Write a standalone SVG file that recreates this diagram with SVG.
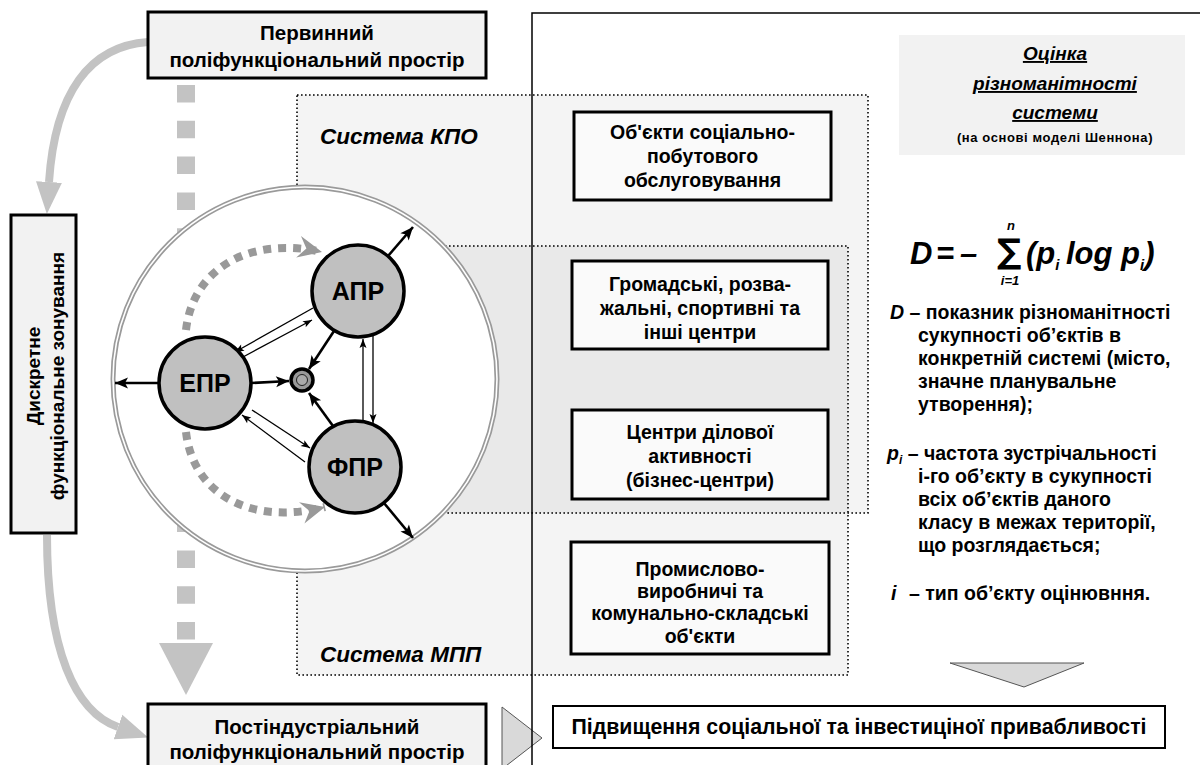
<svg xmlns="http://www.w3.org/2000/svg" width="1200" height="765" viewBox="0 0 1200 765">
<style>
.t{font-family:"Liberation Sans",Arial,sans-serif;font-weight:bold;fill:#000}
.i{font-style:italic}
.box{fill:#f2f2f2;stroke:#000;stroke-width:3}
.rbox{fill:#fafafa;stroke:#000;stroke-width:3}
.reg{fill:#000;fill-opacity:0.045;stroke:#000;stroke-width:1.6;stroke-dasharray:1.6 2.4}
.node{fill:#c0c0c0;stroke:#000;stroke-width:3.5}
.thick{stroke:#000;stroke-width:2.6;fill:none;marker-end:url(#ah)}
.thin{stroke:#000;stroke-width:1.3;fill:none;marker-end:url(#ahs)}
.garc{stroke:#999;stroke-width:8;fill:none;stroke-dasharray:8 7;marker-end:url(#ga)}
.lcurve{stroke:#c3c3c3;stroke-width:8;fill:none;marker-end:url(#la)}
.tri{fill:#d9d9d9;stroke:#555;stroke-width:1}
</style>
<defs>
<marker id="ah" viewBox="-14 -7 16 14" markerWidth="16" markerHeight="14" refX="0" refY="0" orient="auto" markerUnits="userSpaceOnUse"><path d="M-13,-5.5 L0,0 L-13,5.5 L-10,0 z" fill="#000"/></marker>
<marker id="ahs" viewBox="-11 -5 12 10" markerWidth="12" markerHeight="10" refX="0" refY="0" orient="auto" markerUnits="userSpaceOnUse"><path d="M-9,-3.5 L0,0 L-9,3.5 L-7,0 z" fill="#000"/></marker>
<marker id="ga" viewBox="-26 -13 28 26" markerWidth="28" markerHeight="26" refX="0" refY="0" orient="auto" markerUnits="userSpaceOnUse"><path d="M-24,-11 L0,0 L-24,11 L-16,0 z" fill="#999"/></marker>
<marker id="la" viewBox="0 -16 34 32" markerWidth="34" markerHeight="32" refX="0" refY="0" orient="auto" markerUnits="userSpaceOnUse"><path d="M0,-13 L32,0 L0,13 z" fill="#c3c3c3"/></marker>
</defs>
<rect width="1200" height="765" fill="#fff"/>

<g id="region-kpo"><rect class="reg" x="297" y="95" width="571" height="418"/></g>
<g id="region-mpp"><rect class="reg" x="297" y="246" width="551" height="429"/></g>

<g id="flow-dashes">
<line x1="186" y1="85" x2="186" y2="642" stroke="#c3c3c3" stroke-width="18" stroke-dasharray="17.5 18.3"/>
<polygon points="159,643 213,643 186,695" fill="#c3c3c3"/>
</g>

<g id="big-circle">
<circle cx="305" cy="379" r="192" fill="#fff" stroke="#9a9a9a" stroke-width="5"/>
<circle cx="305" cy="379" r="192" fill="none" stroke="#fff" stroke-width="1.6"/>
</g>

<g id="connectors">
<path class="garc" d="M186,330 C193,268 250,236 322,252"/>
<path class="garc" d="M186,432 C193,494 250,526 325,507"/>
<line class="thick" x1="159" y1="383" x2="115" y2="383"/>
<line class="thick" x1="251" y1="383" x2="289" y2="381"/>
<line class="thick" x1="334" y1="331" x2="309" y2="369"/>
<line class="thick" x1="333" y1="426" x2="309" y2="393"/>
<line class="thick" x1="388" y1="256" x2="413" y2="227"/>
<line class="thick" x1="384" y1="503" x2="413" y2="538"/>
<line class="thin" x1="313" y1="308" x2="235" y2="352"/>
<line class="thin" x1="243" y1="357" x2="312" y2="320"/>
<line class="thin" x1="252" y1="410" x2="310" y2="448"/>
<line class="thin" x1="305" y1="462" x2="242" y2="415"/>
<line class="thin" x1="363" y1="421" x2="363" y2="339"/>
<line class="thin" x1="373" y1="336" x2="373" y2="423"/>
<path class="lcurve" d="M148,42 C90,46 55,92 49,182"/>
<path class="lcurve" d="M47,535 C47,650 75,712 118,727"/>
</g>

<g id="node-center">
<circle cx="302" cy="380" r="11" fill="#999" stroke="#000" stroke-width="3.5"/>
<circle cx="302" cy="380" r="5.5" fill="#aaa" stroke="#222" stroke-width="1"/>
</g>
<g id="node-apr"><circle class="node" cx="358" cy="291" r="46"/><text class="t" x="358" y="300" font-size="25" text-anchor="middle">АПР</text></g>
<g id="node-epr"><circle class="node" cx="205" cy="383" r="46"/><text class="t" x="205" y="392" font-size="25" text-anchor="middle">ЕПР</text></g>
<g id="node-fpr"><circle class="node" cx="355" cy="467" r="46"/><text class="t" x="355" y="476" font-size="25" text-anchor="middle">ФПР</text></g>

<g id="label-kpo"><text class="t i" x="320" y="144" font-size="22.5">Система КПО</text></g>
<g id="label-mpp"><text class="t i" x="320" y="662" font-size="22.5">Система МПП</text></g>

<g id="box-social"><rect class="rbox" x="574" y="112" width="257" height="88"/>
<text class="t" font-size="19.5" text-anchor="middle"><tspan x="702.5" y="139">Об'єкти соціально-</tspan><tspan x="702.5" y="163">побутового</tspan><tspan x="702.5" y="187">обслуговування</tspan></text></g>
<g id="box-public"><rect class="rbox" x="572" y="261" width="256" height="88"/>
<text class="t" font-size="19.5" text-anchor="middle"><tspan x="700" y="291">Громадські, розва-</tspan><tspan x="700" y="315">жальні, спортивні та</tspan><tspan x="700" y="339">інші центри</tspan></text></g>
<g id="box-business"><rect class="rbox" x="572" y="410" width="256" height="89"/>
<text class="t" font-size="19.5" text-anchor="middle"><tspan x="700" y="439">Центри ділової</tspan><tspan x="700" y="463">активності</tspan><tspan x="700" y="487">(бізнес-центри)</tspan></text></g>
<g id="box-industrial"><rect class="rbox" x="571" y="542" width="258" height="112"/>
<text class="t" font-size="19.5" text-anchor="middle"><tspan x="700" y="576">Промислово-</tspan><tspan x="700" y="598">виробничі та</tspan><tspan x="700" y="620">комунально-складські</tspan><tspan x="700" y="643">об'єкти</tspan></text></g>

<g id="box-primary"><rect class="box" x="148" y="12" width="338" height="66"/>
<text class="t" font-size="20.5" text-anchor="middle"><tspan x="317" y="40">Первинний</tspan><tspan x="317" y="67">поліфункціональний простір</tspan></text></g>
<g id="box-post"><rect class="box" x="148" y="704" width="338" height="75"/>
<text class="t" font-size="20.5" text-anchor="middle"><tspan x="317" y="734">Постіндустріальний</tspan><tspan x="317" y="759">поліфункціональний простір</tspan></text></g>
<g id="box-zoning"><rect class="box" x="11" y="215" width="65" height="318"/>
<text class="t" font-size="19" text-anchor="middle" transform="translate(40,376) rotate(-90)">Дискретне</text>
<text class="t" font-size="19" text-anchor="middle" transform="translate(64,376) rotate(-90)">функціональне зонування</text></g>

<g id="arrow-right"><polygon class="tri" points="502,707 542,738 502,769"/></g>
<g id="frame"><path d="M532,765 V13 H1200" fill="none" stroke="#000" stroke-width="1.5"/></g>

<g id="panel-title"><rect x="899" y="35" width="286" height="120" fill="#f2f2f2"/>
<text class="t i" font-size="19" text-anchor="middle" text-decoration="underline"><tspan x="1055" y="60">Оцінка</tspan><tspan x="1055" y="90">різноманітності</tspan><tspan x="1055" y="119">системи</tspan></text>
<text class="t" font-size="13" letter-spacing="0.6" text-anchor="middle" x="1055" y="142">(на основі моделі Шеннона)</text></g>

<g id="formula">
<text class="t i" font-size="31" y="264"><tspan x="910">D</tspan><tspan x="936">=</tspan><tspan x="960">–</tspan></text>
<text x="1009" y="263" font-family="DejaVu Sans,sans-serif" font-weight="bold" font-size="34" text-anchor="middle">∑</text>
<text class="t i" font-size="13" x="1011" y="230" text-anchor="middle">n</text>
<text class="t i" font-size="13" x="1010" y="285" text-anchor="middle">i=1</text>
<text class="t i" font-size="31" y="264"><tspan x="1026">(p</tspan><tspan font-size="15" dy="6">i</tspan><tspan x="1066" dy="-6">log p</tspan><tspan font-size="15" dy="6">i</tspan><tspan dy="-6">)</tspan></text>
</g>

<g id="legend" class="t" font-size="19.5">
<text x="890" y="319"><tspan class="i">D</tspan> – показник різноманітності</text>
<text x="918" y="342">сукупності об’єктів в</text>
<text x="918" y="365">конкретній системі (місто,</text>
<text x="918" y="388">значне планувальне</text>
<text x="918" y="411">утворення);</text>
<text x="887" y="460"><tspan class="i">p</tspan><tspan font-size="12" dy="4" class="i">i</tspan><tspan dy="-4"> – частота зустрічальності</tspan></text>
<text x="918" y="483">і-го об’єкту в сукупності</text>
<text x="918" y="506">всіх об’єктів даного</text>
<text x="918" y="529">класу в межах території,</text>
<text x="918" y="552">що розглядається;</text>
<text x="891" y="600"><tspan class="i">i</tspan><tspan x="909">– тип об’єкту оцінювння.</tspan></text>
</g>

<g id="arrow-down"><polygon class="tri" points="950,663 1084,663 1024,687"/></g>
<g id="box-attract"><rect x="553" y="706" width="612" height="42" fill="#fff" stroke="#000" stroke-width="2"/>
<text class="t" font-size="21.3" x="859" y="734" text-anchor="middle">Підвищення соціальної та інвестиціної привабливості</text></g>
</svg>
